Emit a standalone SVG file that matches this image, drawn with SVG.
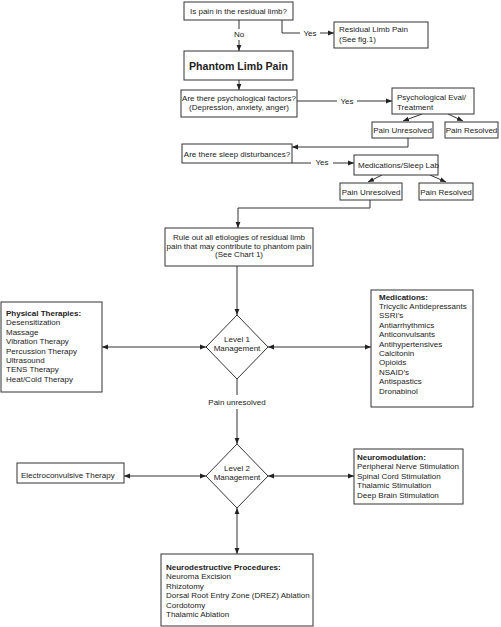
<svg xmlns="http://www.w3.org/2000/svg" width="501" height="627" viewBox="0 0 501 627">
<defs>
<marker id="ah" viewBox="0 0 6 6" refX="6" refY="3" markerWidth="6" markerHeight="6" orient="auto-start-reverse" markerUnits="userSpaceOnUse"><path d="M0,0.6 L6,3 L0,5.4 z" fill="#222"/></marker>
<style>
.b{fill:#fff;stroke:#333;stroke-width:1}
.t{font-family:"Liberation Sans",Arial,sans-serif;font-size:8px;fill:#222}
.c{text-anchor:middle}
.h{font-weight:bold}
.l{fill:none;stroke:#333;stroke-width:1}
.a{marker-end:url(#ah)}
.d{marker-start:url(#ah);marker-end:url(#ah)}
</style>
</defs>
<rect width="501" height="627" fill="#fff"/>
<g id="connectors">
<path class="l" d="M239,20V29"/><text class="t c" x="239" y="37">No</text><path class="l a" d="M239,40V51"/>
<path class="l" d="M282,20V33H300"/><text class="t c" x="310" y="36">Yes</text><path class="l a" d="M320,33H334"/>
<path class="l a" d="M239,80V90"/>
<path class="l" d="M297,101H337"/><text class="t c" x="347" y="104">Yes</text><path class="l a" d="M357,101H392"/>
<path class="l a" d="M422,114L403,121"/>
<path class="l a" d="M448,114L463,121"/>
<path class="l a" d="M408,138V147H292"/>
<path class="l" d="M292,163H311"/><text class="t c" x="322" y="165">Yes</text><path class="l a" d="M333,163H354"/>
<path class="l a" d="M382,175L368,182"/>
<path class="l a" d="M430,175L446,182"/>
<path class="l a" d="M370,200V208H238V228"/>
<path class="l a" d="M237,266V315"/>
<path class="l d" d="M102,347H206"/>
<path class="l d" d="M268,347H371"/>
<path class="l" d="M237,379V395"/><text class="t c" x="237" y="405">Pain unresolved</text><path class="l a" d="M237,409V444"/>
<path class="l d" d="M124,476H206"/>
<path class="l d" d="M268,476H354"/>
<path class="l d" d="M237,508V554"/>
</g>
<g id="q1"><rect class="b" x="184" y="2" width="109" height="18"/><text class="t c" x="238.5" y="14">Is pain in the residual limb?</text></g>
<g id="residual"><rect class="b" x="334" y="22" width="94" height="26"/><text class="t" x="339" y="32">Residual Limb Pain</text><text class="t" x="339" y="42">(See fig.1)</text></g>
<g id="phantom"><rect class="b" x="184" y="51" width="109" height="29"/><text class="t c h" x="238.5" y="69.5" style="font-size:10.6px">Phantom Limb Pain</text></g>
<g id="psych"><rect class="b" x="181" y="90" width="116" height="27"/><text class="t c" x="239" y="101">Are there psychological factors?</text><text class="t c" x="239" y="110">(Depression, anxiety, anger)</text></g>
<g id="psychEval"><rect class="b" x="392" y="88" width="82" height="26"/><text class="t" x="397" y="100">Psychological Eval/</text><text class="t" x="397" y="109.5">Treatment</text></g>
<g id="pu1"><rect class="b" x="372" y="122" width="61" height="16"/><text class="t c" x="402.5" y="133">Pain Unresolved</text></g>
<g id="pr1"><rect class="b" x="445" y="122" width="53" height="16"/><text class="t c" x="471.5" y="133">Pain Resolved</text></g>
<g id="sleep"><rect class="b" x="182" y="144" width="110" height="19"/><text class="t c" x="237" y="156.5">Are there sleep disturbances?</text></g>
<g id="medsleep"><rect class="b" x="354" y="155" width="84" height="20"/><text class="t" x="358" y="167.5">Medications/Sleep Lab</text></g>
<g id="pu2"><rect class="b" x="340" y="183" width="62" height="17"/><text class="t c" x="371" y="194.5">Pain Unresolved</text></g>
<g id="pr2"><rect class="b" x="419" y="183" width="54" height="17"/><text class="t c" x="446" y="194.5">Pain Resolved</text></g>
<g id="rule"><rect class="b" x="165" y="228" width="148" height="38"/><text class="t c" x="239" y="240">Rule out all etiologies of residual limb</text><text class="t c" x="239" y="248.5">pain that may contribute to phantom pain</text><text class="t c" x="239" y="257">(See Chart 1)</text></g>
<g id="physical"><rect class="b" x="1" y="302" width="101" height="90"/>
<text class="t" x="6" y="316"><tspan class="h" x="6">Physical Therapies:</tspan><tspan x="6" dy="9.4">Desensitization</tspan><tspan x="6" dy="9.4">Massage</tspan><tspan x="6" dy="9.4">Vibration Therapy</tspan><tspan x="6" dy="9.4">Percussion Therapy</tspan><tspan x="6" dy="9.4">Ultrasound</tspan><tspan x="6" dy="9.4">TENS Therapy</tspan><tspan x="6" dy="9.4">Heat/Cold Therapy</tspan></text></g>
<g id="level1"><polygon class="b" points="237,315 268,347 237,379 206,347"/><text class="t c" x="237" y="342">Level 1</text><text class="t c" x="237" y="351">Management</text></g>
<g id="meds"><rect class="b" x="371" y="290" width="102" height="117"/>
<text class="t" x="379" y="299.5"><tspan class="h" x="379">Medications:</tspan><tspan x="379" dy="9.4">Tricyclic Antidepressants</tspan><tspan x="379" dy="9.4">SSRI’s</tspan><tspan x="379" dy="9.4">Antiarrhythmics</tspan><tspan x="379" dy="9.4">Anticonvulsants</tspan><tspan x="379" dy="9.4">Antihypertensives</tspan><tspan x="379" dy="9.4">Calcitonin</tspan><tspan x="379" dy="9.4">Opioids</tspan><tspan x="379" dy="9.4">NSAID’s</tspan><tspan x="379" dy="9.4">Antispastics</tspan><tspan x="379" dy="9.4">Dronabinol</tspan></text></g>
<g id="ect"><rect class="b" x="17" y="463" width="107" height="20"/><text class="t" x="21" y="478">Electroconvulsive Therapy</text></g>
<g id="level2"><polygon class="b" points="237,444 268,476 237,508 206,476"/><text class="t c" x="237" y="471">Level 2</text><text class="t c" x="237" y="480">Management</text></g>
<g id="neuromod"><rect class="b" x="354" y="449" width="109" height="55"/>
<text class="t" x="357" y="459.5"><tspan class="h" x="357">Neuromodulation:</tspan><tspan x="357" dy="9.5">Peripheral Nerve Stimulation</tspan><tspan x="357" dy="9.5">Spinal Cord Stimulation</tspan><tspan x="357" dy="9.5">Thalamic Stimulation</tspan><tspan x="357" dy="9.5">Deep Brain Stimulation</tspan></text></g>
<g id="neurodest"><rect class="b" x="161" y="554" width="152" height="72"/>
<text class="t" x="166" y="570"><tspan class="h" x="166">Neurodestructive Procedures:</tspan><tspan x="166" dy="9.4">Neuroma Excision</tspan><tspan x="166" dy="9.4">Rhizotomy</tspan><tspan x="166" dy="9.4">Dorsal Root Entry Zone (DREZ) Ablation</tspan><tspan x="166" dy="9.4">Cordotomy</tspan><tspan x="166" dy="9.4">Thalamic Ablation</tspan></text></g>
</svg>
